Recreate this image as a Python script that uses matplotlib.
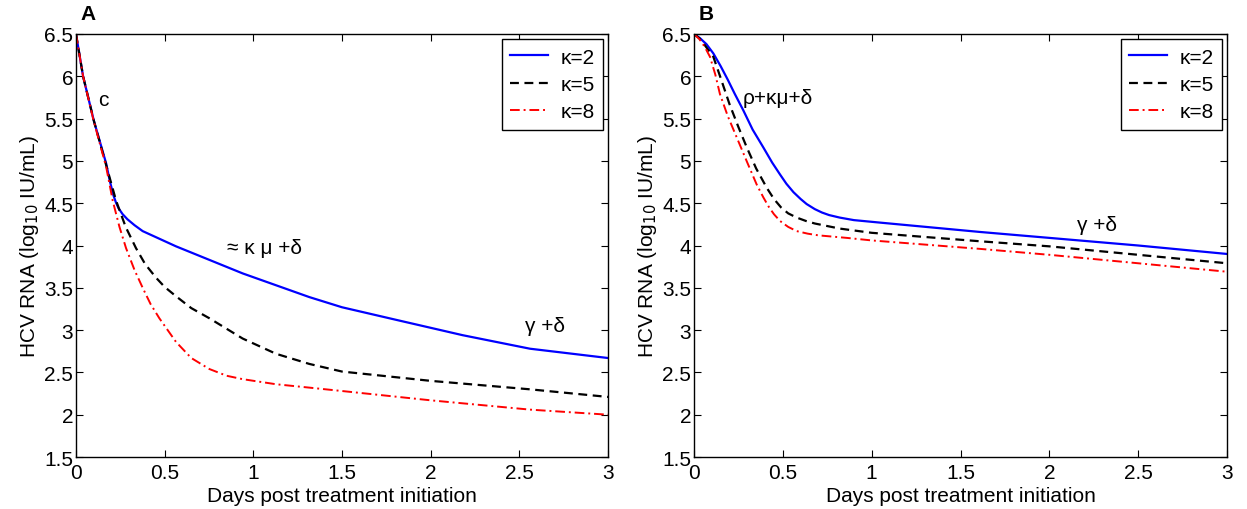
import matplotlib
matplotlib.use("Agg")
import matplotlib.pyplot as plt

plt.rcParams['font.family'] = ['Liberation Sans', 'DejaVu Sans']

# ---- Panel A data ----
a_k2_x = [0, 0.04, 0.1, 0.17, 0.19, 0.21, 0.225, 0.24, 0.263, 0.29, 0.33, 0.376, 0.47, 0.564, 0.752, 0.94, 1.128, 1.316, 1.5, 1.808, 2.18, 2.56, 3.0]
a_k2_y = [6.5, 6.0, 5.48, 4.97, 4.77, 4.6, 4.51, 4.44, 4.37, 4.31, 4.24, 4.17, 4.08, 3.99, 3.83, 3.67, 3.53, 3.39, 3.27, 3.12, 2.94, 2.78, 2.67]
a_k5_x = [0, 0.04, 0.1, 0.17, 0.226, 0.28, 0.338, 0.39, 0.451, 0.5, 0.564, 0.65, 0.752, 0.94, 1.128, 1.316, 1.5, 2.0, 2.56, 3.0]
a_k5_y = [6.5, 6.0, 5.48, 4.95, 4.53, 4.22, 3.97, 3.78, 3.62, 3.51, 3.40, 3.26, 3.14, 2.90, 2.72, 2.60, 2.51, 2.40, 2.30, 2.21]
a_k8_x = [0, 0.04, 0.1, 0.17, 0.207, 0.245, 0.282, 0.33, 0.376, 0.42, 0.47, 0.564, 0.65, 0.752, 0.85, 0.94, 1.128, 1.316, 1.5, 2.0, 2.56, 3.0]
a_k8_y = [6.5, 6.0, 5.47, 4.93, 4.53, 4.22, 3.97, 3.71, 3.50, 3.31, 3.14, 2.86, 2.67, 2.54, 2.46, 2.42, 2.36, 2.32, 2.28, 2.17, 2.06, 2.0]

# ---- Panel B data ----
b_k2_x = [0, 0.034, 0.07, 0.109, 0.15, 0.19, 0.23, 0.277, 0.33, 0.39, 0.44, 0.484, 0.52, 0.56, 0.6, 0.634, 0.68, 0.72, 0.76, 0.82, 0.9, 1.05, 1.61, 2.0, 2.5, 3.0]
b_k2_y = [6.5, 6.45, 6.38, 6.27, 6.12, 5.96, 5.79, 5.60, 5.37, 5.16, 4.98, 4.84, 4.73, 4.63, 4.55, 4.49, 4.43, 4.39, 4.36, 4.33, 4.30, 4.27, 4.16, 4.09, 4.0, 3.9]
b_k5_x = [0, 0.03, 0.06, 0.109, 0.15, 0.2, 0.25, 0.297, 0.35, 0.41, 0.45, 0.49, 0.53, 0.578, 0.63, 0.68, 0.75, 0.82, 1.0, 1.61, 2.0, 2.5, 3.0]
b_k5_y = [6.5, 6.45, 6.37, 6.23, 5.98, 5.67, 5.40, 5.16, 4.91, 4.68, 4.55, 4.45, 4.38, 4.33, 4.29, 4.26, 4.23, 4.20, 4.15, 4.05, 3.99, 3.89, 3.79]
b_k8_x = [0, 0.03, 0.06, 0.09, 0.12, 0.146, 0.19, 0.24, 0.3, 0.353, 0.39, 0.42, 0.45, 0.484, 0.53, 0.578, 0.64, 0.7, 0.86, 1.0, 1.61, 2.0, 2.5, 3.0]
b_k8_y = [6.5, 6.44, 6.35, 6.23, 6.02, 5.79, 5.53, 5.28, 4.98, 4.72, 4.57, 4.46, 4.37, 4.29, 4.22, 4.17, 4.14, 4.12, 4.09, 4.06, 3.96, 3.89, 3.79, 3.69]

kappa_labels = ['\u03ba=2', '\u03ba=5', '\u03ba=8']
x_ticks = [0, 0.5, 1, 1.5, 2, 2.5, 3]
x_tick_labels = ['0', '0.5', '1', '1.5', '2', '2.5', '3']
y_ticks = [1.5, 2, 2.5, 3, 3.5, 4, 4.5, 5, 5.5, 6, 6.5]
y_tick_labels = ['1.5', '2', '2.5', '3', '3.5', '4', '4.5', '5', '5.5', '6', '6.5']

FS = 15
fig = plt.figure(figsize=(12.47, 5.10), dpi=100)
axA = fig.add_axes([76/1247, 1-458/510, (608-76)/1247, (458-35)/510])
axB = fig.add_axes([694/1247, 1-458/510, (1227-694)/1247, (458-35)/510])

styles = [dict(color='#0000ff', ls='-', lw=1.6),
          dict(color='black', ls=(0, (4, 2.5)), lw=1.6),
          dict(color='#ff0000', ls=(0, (5, 2, 1, 2)), lw=1.4)]

def setup(ax, series, panel):
    for (x, y), st, lab in zip(series, styles, kappa_labels):
        ax.plot(x, y, label=lab, **st)
    ax.set_xlim(0, 3)
    ax.set_ylim(1.5, 6.5)
    ax.set_xticks(x_ticks)
    ax.set_xticklabels(x_tick_labels, fontsize=FS)
    ax.set_yticks(y_ticks)
    ax.set_yticklabels(y_tick_labels, fontsize=FS)
    ax.tick_params(direction='in', top=True, right=True, length=5, width=0.8)
    ax.tick_params(axis='x', pad=4)
    ax.tick_params(axis='y', pad=2)
    for s in ax.spines.values():
        s.set_linewidth(1.0)
    ax.set_xlabel('Days post treatment initiation', fontsize=FS, labelpad=3)
    ax.set_ylabel('HCV RNA (log$_{10}$ IU/mL)', fontsize=FS, labelpad=2)
    leg = ax.legend(loc='upper right', fontsize=FS, frameon=True, fancybox=False,
                    edgecolor='black', framealpha=1, handlelength=1.8,
                    borderaxespad=0.25, labelspacing=0.4, handletextpad=0.6,
                    borderpad=0.4)
    leg.get_frame().set_linewidth(1.0)
    ax.text(0.008, 1.025, panel, transform=ax.transAxes, fontsize=FS,
            fontweight='bold', ha='left', va='bottom')

setup(axA, [(a_k2_x, a_k2_y), (a_k5_x, a_k5_y), (a_k8_x, a_k8_y)], 'A')
setup(axB, [(b_k2_x, b_k2_y), (b_k5_x, b_k5_y), (b_k8_x, b_k8_y)], 'B')

axA.text(0.155, 5.72, 'c', fontsize=FS, ha='center', va='center')
axA.text(1.065, 3.98, '\u2248 \u03ba \u03bc +\u03b4', fontsize=FS, ha='center', va='center')
axA.text(2.645, 3.05, '\u03b3 +\u03b4', fontsize=FS, ha='center', va='center')
axB.text(0.474, 5.75, '\u03c1+\u03ba\u03bc+\u03b4', fontsize=FS, ha='center', va='center')
axB.text(2.266, 4.25, '\u03b3 +\u03b4', fontsize=FS, ha='center', va='center')

fig.savefig('out.png', dpi=100)
